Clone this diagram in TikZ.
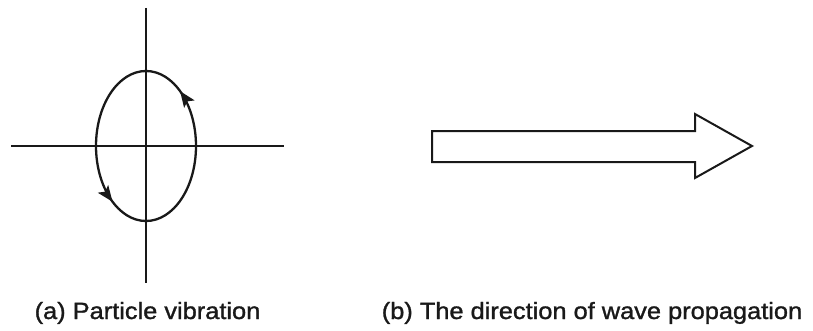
\documentclass[tikz,border=0pt]{standalone}
\usepackage{fontspec}
\setmainfont{Liberation Sans}
\newfontfamily\capfont[FakeBold=1.2]{Liberation Sans}
\usetikzlibrary{arrows.meta}
\definecolor{ink}{RGB}{25,25,25}
\tikzset{
  axis/.style={draw=ink,line width=2.6pt},
  orbit/.style={draw=ink,line width=2.3pt},
  headtip/.style={fill=ink},
  bigarrow/.style={draw=ink,line width=2pt,line join=miter,fill=white},
  caption/.style={inner sep=0pt,anchor=base,text=ink,font=\capfont\fontsize{23.5}{28}\selectfont}
}
\begin{document}
\begin{tikzpicture}[x=1pt,y=1pt]
\useasboundingbox (0,0) rectangle (813,330);
% (a) particle vibration
\coordinate (c) at (146,184);
\coordinate (vt) at (146,322);
\coordinate (vb) at (146,47);
\coordinate (hl) at (11,184);
\coordinate (hr) at (284,184);
\draw[axis] (vt) -- (vb);
\draw[axis] (hl) -- (hr);
\draw[orbit] (c) ellipse [x radius=50, y radius=75];
\coordinate (t1) at (180.1,238.8);
\coordinate (t2) at (112.5,128.3);
\fill[headtip,shift={(t1)},rotate=125.6] (0,0) -- (-16,6.5) -- (-12.5,0) -- (-16,-6.5) -- cycle;
\fill[headtip,shift={(t2)},rotate=-53.5] (0,0) -- (-16,6.5) -- (-12.5,0) -- (-16,-6.5) -- cycle;
% (b) direction of wave propagation
\draw[bigarrow] (432,199) -- (695,199) -- (695,216) -- (752,184) -- (695,152) -- (695,168) -- (432,168) -- cycle;
% captions
\node[caption] (capa) at (147.5,11) {\scalebox{1.08}[1]{(a) Particle vibration}};
\node[caption] (capb) at (592,11) {\scalebox{1.08}[1]{(b) The direction of wave propagation}};
\end{tikzpicture}
\end{document}
